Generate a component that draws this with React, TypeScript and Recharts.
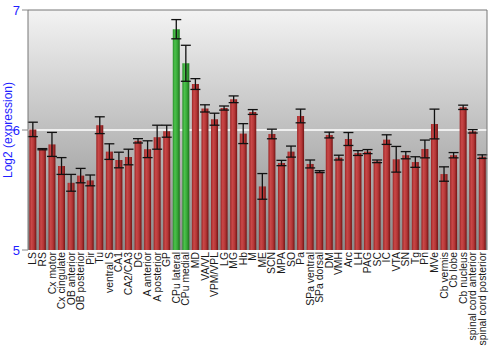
import { BarChart, Bar, XAxis, YAxis, CartesianGrid, ErrorBar, Cell, ReferenceLine } from "recharts";

// regions (x axis), mean log2 expression and error
const regions = [
  "LS", "RS", "Cx motor", "Cx cingulate", "OB anterior", "OB posterior", "Pir", "Tu",
  "ventral S", "CA1", "CA2/CA3", "DG", "A anterior", "A posterior", "GP", "CPu lateral",
  "CPu medial", "MD", "VA/VL", "VPM/VPL", "LG", "MG", "Hb", "M", "ME", "SCN", "MPA", "SO",
  "Pa", "SPa ventral", "SPa dorsal", "DM", "VMH", "Arc", "LH", "PAG", "SC", "IC", "VTA",
  "SN", "Tg", "Pn", "MVe", "Cb vermis", "Cb lobe", "Cb nucleus", "spinal cord anterior",
  "spinal cord posterior",
];

const expression = [
  6.005, 5.84, 5.88, 5.7, 5.56, 5.62, 5.58, 6.04,
  5.82, 5.75, 5.775, 5.91, 5.84, 5.94, 5.99, 6.84,
  6.556, 6.383, 6.18, 6.09, 6.183, 6.256, 5.97, 6.15, 5.53, 5.967, 5.725, 5.82,
  6.117, 5.717, 5.653, 5.958, 5.77, 5.925, 5.808, 5.82, 5.739, 5.92, 5.756,
  5.79, 5.733, 5.842, 6.05, 5.633, 5.79, 6.189, 5.989,
  5.778,
];

const stderr = [
  0.06, 0.005, 0.1, 0.07, 0.07, 0.06, 0.045, 0.07,
  0.065, 0.065, 0.065, 0.018, 0.07, 0.1, 0.05, 0.08,
  0.15, 0.045, 0.03, 0.05, 0.017, 0.028, 0.083, 0.02, 0.107, 0.04, 0.022, 0.046,
  0.057, 0.033, 0.008, 0.024, 0.02, 0.054, 0.02, 0.017, 0.011, 0.04, 0.107,
  0.03, 0.044, 0.074, 0.124, 0.06, 0.022, 0.018, 0.014,
  0.015,
];

const highlighted = ["CPu lateral", "CPu medial"];

const yTicks = [5, 6, 7];

const data = regions.map((name, i) => ({ name, value: expression[i], err: stderr[i] }));

const BLUE = "#1f1fff";
const FONT = "'Liberation Sans', Arial, sans-serif";

function RegionTick(props: any) {
  const { x, y, payload } = props;
  return (
    <g transform={`translate(${x},${y})`}>
      <text
        transform="rotate(-90)"
        x={-2}
        y={0}
        dy="0.35em"
        textAnchor="end"
        fontSize={10.4}
        fill="#1a1a1a"
        fontFamily={FONT}
      >
        {payload.value}
      </text>
    </g>
  );
}

export default function App() {
  return (
    <div style={{ position: "absolute", left: 0, top: 0, fontFamily: FONT }}>
      <BarChart
        width={500}
        height={350}
        data={data}
        margin={{ top: 10, right: 0, left: 0, bottom: 0 }}
        barCategoryGap="14%"
      >
        <defs>
          <linearGradient id="bg" x1="0" y1="0" x2="0" y2="1">
            <stop offset="0%" stopColor="#f3f3f3" />
            <stop offset="100%" stopColor="#8a8a8a" />
          </linearGradient>
          <linearGradient id="redBar" x1="0" y1="0" x2="1" y2="0">
            <stop offset="0%" stopColor="#9c2424" />
            <stop offset="30%" stopColor="#c94848" />
            <stop offset="65%" stopColor="#b43636" />
            <stop offset="100%" stopColor="#731414" />
          </linearGradient>
          <linearGradient id="greenBar" x1="0" y1="0" x2="1" y2="0">
            <stop offset="0%" stopColor="#2a8e2a" />
            <stop offset="30%" stopColor="#4cc24c" />
            <stop offset="65%" stopColor="#38a838" />
            <stop offset="100%" stopColor="#1c701c" />
          </linearGradient>
        </defs>
        <CartesianGrid
          yAxisId="left"
          vertical={false}
          horizontalValues={[6]}
          stroke="#ffffff"
          strokeWidth={1.5}
          fill="url(#bg)"
          fillOpacity={1}
        />
        <XAxis
          dataKey="name"
          interval={0}
          height={100}
          tickLine={false}
          axisLine={false}
          tickSize={0}
          tickMargin={0}
          tick={<RegionTick />}
        />
        <YAxis
          yAxisId="left"
          width={28}
          domain={[5, 7]}
          ticks={yTicks}
          tickSize={6}
          tickMargin={2}
          tickLine={{ stroke: "#888" }}
          axisLine={{ stroke: "#777" }}
          tick={{ fontSize: 13, fill: BLUE }}
          label={{
            value: "Log2 (expression)",
            angle: -90,
            position: "insideLeft",
            offset: 8,
            style: { textAnchor: "middle", fill: BLUE, fontSize: 12 },
          }}
        />
        <YAxis
          yAxisId="right"
          orientation="right"
          width={13}
          domain={[5, 7]}
          ticks={yTicks}
          tickSize={5}
          tickMargin={1}
          tickLine={{ stroke: "#888" }}
          axisLine={{ stroke: "#777" }}
          tick={{ fontSize: 13, fill: BLUE, textAnchor: "start" }}
        />
        <ReferenceLine yAxisId="left" y={7} stroke="#777" />
        <Bar dataKey="value" yAxisId="left" isAnimationActive={false} fill="url(#redBar)">
          {data.map((d) => (
            <Cell key={d.name} fill={highlighted.includes(d.name) ? "url(#greenBar)" : "url(#redBar)"} />
          ))}
          <ErrorBar dataKey="err" width={5} stroke="#111" strokeWidth={1.3} isAnimationActive={false} />
        </Bar>
      </BarChart>
    </div>
  );
}
